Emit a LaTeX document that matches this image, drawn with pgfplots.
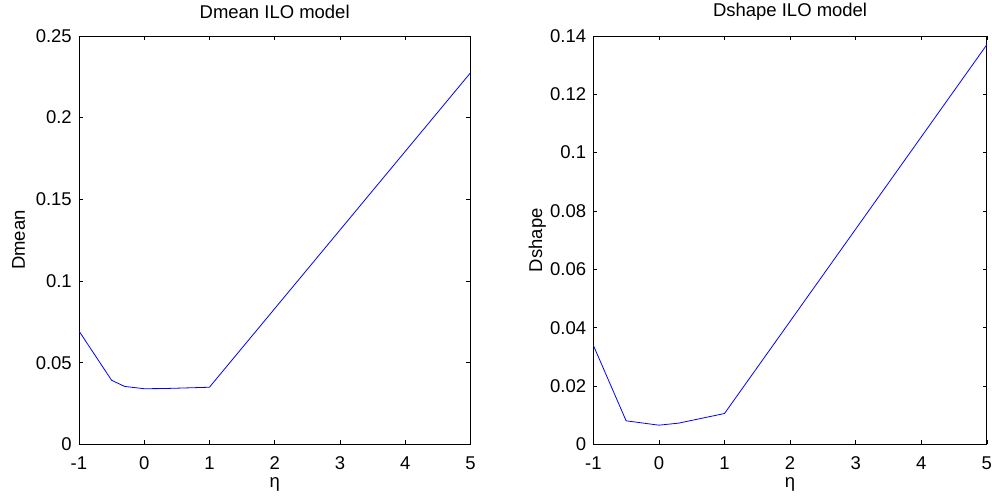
\documentclass[border=0pt]{standalone}
\usepackage{fontspec}
\setmainfont{Liberation Sans}
\usepackage{pgfplots}
\pgfplotsset{compat=1.18}
\pgfplotsset{
  matstyle/.style={
    scale only axis,
    width=392pt, height=409pt,
    xmin=-1, xmax=5,
    xtick={-1,0,1,2,3,4,5},
    tick align=inside,
    tick pos=both,
    major tick length=4pt,
    axis line style={black, line width=0.8pt},
    every tick/.style={black, line width=0.6pt},
    font=\fontsize{18.5}{21}\selectfont,
    /pgf/number format/assume math mode=true,
    scaled y ticks=false,
    yticklabel style={/pgf/number format/fixed, /pgf/number format/precision=3, inner sep=0pt, xshift=-7pt},
    xticklabel style={/pgf/number format/fixed, inner sep=0pt, yshift=-12pt},
    title style={font=\fontsize{18.5}{21}\selectfont, at={(axis description cs:0.5,1.044)}, anchor=center},
    xlabel style={font=\fontsize{18.5}{21}\selectfont, at={(axis description cs:0.5,-0.0978)}, anchor=center},
    ylabel style={font=\fontsize{18.5}{21}\selectfont, anchor=center},
  }
}
\begin{document}
\begin{tikzpicture}
\path (0pt,0pt) rectangle (992pt,493pt);
\begin{axis}[matstyle, at={(79pt,51pt)}, anchor=south west,
  ymin=0, ymax=0.25,
  ytick={0,0.05,0.1,0.15,0.2,0.25},
  ylabel style={at={(axis description cs:-0.1543,0.5)}, rotate=0},
  title={Dmean ILO model}, xlabel={η}, ylabel={Dmean}]
\addplot[color={rgb,255:red,0;green,0;blue,255}, line width=0.8pt] coordinates {
(-1,0.0695) (-0.5,0.0393) (-0.3,0.0355) (0,0.0341) (0.3,0.0342) (1,0.0350) (5,0.2274)};
\end{axis}
\begin{axis}[matstyle, at={(594pt,51pt)}, anchor=south west,
  width=394pt,
  ymin=0, ymax=0.14,
  ytick={0,0.02,0.04,0.06,0.08,0.1,0.12,0.14},
  ylabel style={at={(axis description cs:-0.142,0.5)}},
  title={Dshape ILO model}, xlabel={η}, ylabel={Dshape}]
\addplot[color={rgb,255:red,0;green,0;blue,255}, line width=0.8pt] coordinates {
(-1,0.0340) (-0.5,0.0081) (0,0.0066) (0.3,0.0073) (1,0.0106) (5,0.1370)};
\end{axis}
\end{tikzpicture}
\end{document}
